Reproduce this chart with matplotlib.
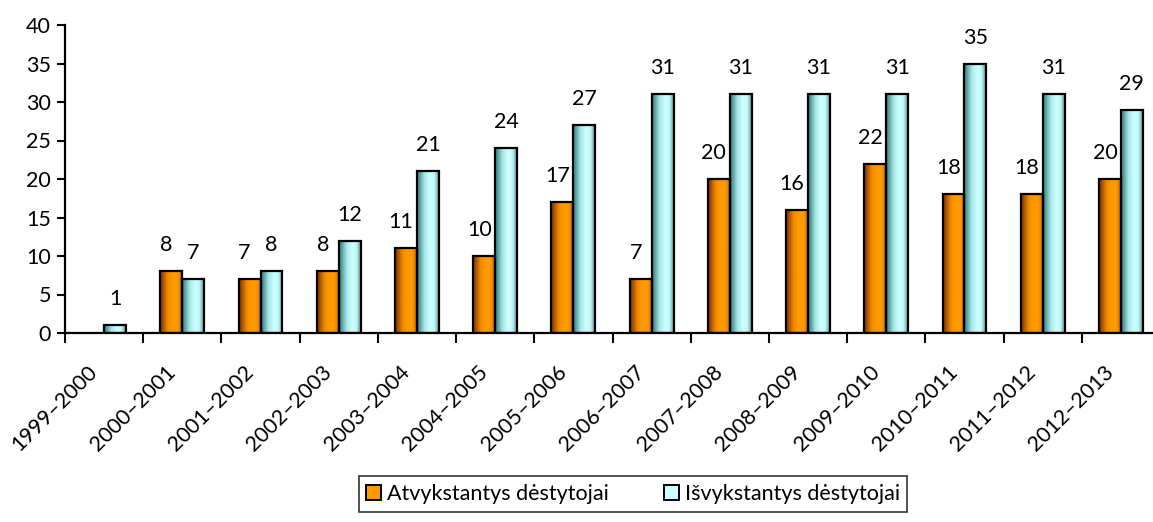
import numpy as np
import matplotlib.pyplot as plt
import matplotlib.transforms as mtransforms
from matplotlib.colors import LinearSegmentedColormap
from matplotlib.patches import Patch

plt.rcParams['font.family'] = ['Lato', 'DejaVu Sans']

# data
years = ['1999–2000', '2000–2001', '2001–2002', '2002–2003', '2003–2004',
         '2004–2005', '2005–2006', '2006–2007', '2007–2008', '2008–2009',
         '2009–2010', '2010–2011', '2011–2012', '2012–2013']
atvyk = [None, 8, 7, 8, 11, 10, 17, 7, 20, 16, 22, 18, 18, 20]
isvyk = [1, 7, 8, 12, 21, 24, 27, 31, 31, 31, 31, 35, 31, 29]
series_names = ['Atvykstantys dėstytojai', 'Išvykstantys dėstytojai']

FS = 15.5

orange_cm = LinearSegmentedColormap.from_list(
    'or', [(0, '#7a3000'), (0.35, '#f08a00'), (0.55, '#ff9900'), (0.8, '#ff9900'), (1, '#d07000')])
cyan_cm = LinearSegmentedColormap.from_list(
    'cy', [(0, '#2f7a7a'), (0.35, '#a8e8e8'), (0.6, '#ccffff'), (0.8, '#c4f6f6'), (1, '#5a9c9c')])

fig = plt.figure(figsize=(11.53, 5.22), dpi=100)
ax = fig.add_axes([65/1153, 1 - 333/522, 1095/1153, 308/522])

x = np.arange(len(years))
w = 0.28
grad = np.linspace(0, 1, 64).reshape(1, -1)

def gradient_bars(xs, vals, cmap, offset, dx):
    for xi, v in zip(xs, vals):
        if v is None:
            continue
        b = ax.bar(xi + offset, v, width=w, align='edge', facecolor='none',
                   edgecolor='black', linewidth=1.6, zorder=3)[0]
        im = ax.imshow(grad, cmap=cmap, aspect='auto', zorder=2,
                       extent=[xi + offset, xi + offset + w, 0, v])
        im.set_clip_path(b)
        ax.annotate(str(v), (xi + offset + w / 2, v), xytext=(dx, 26),
                    textcoords='offset pixels', ha='center', va='center',
                    fontsize=FS, color='black')

gradient_bars(x + 0.5, atvyk, orange_cm, -w, -5)
gradient_bars(x + 0.5, isvyk, cyan_cm, 0, 0)

ax.set_xlim(0, len(years))
ax.set_ylim(0, 40)
ax.set_yticks(np.arange(0, 41, 5))
ax.tick_params(axis='y', labelsize=FS, length=6, width=1.5, pad=4)

ax.set_xticks(x + 0.5)
ax.set_xticklabels(years, rotation=45, ha='right', va='center', rotation_mode='anchor', fontsize=FS)
ax.set_xticks(np.arange(0, len(years) + 1), minor=True)
ax.tick_params(axis='x', which='major', length=0, pad=26)
ax.tick_params(axis='x', which='minor', length=7, width=1.5)
off = mtransforms.ScaledTranslation(-10 / 100, 0, fig.dpi_scale_trans)
for lab in ax.get_xticklabels():
    lab.set_transform(lab.get_transform() + off)

for s in ['top', 'right']:
    ax.spines[s].set_visible(False)
for s in ['left', 'bottom']:
    ax.spines[s].set_linewidth(1.6)

handles = [Patch(facecolor='#ff9900', edgecolor='black', linewidth=1.4),
           Patch(facecolor='#ccffff', edgecolor='black', linewidth=1.4)]
leg = fig.legend(handles, series_names, loc='center', bbox_to_anchor=(633/1153, 1 - 494/522),
                 ncol=2, fontsize=FS, frameon=True, fancybox=False, edgecolor='black',
                 handlelength=0.7, handleheight=0.7, handletextpad=0.25, columnspacing=2.6,
                 borderpad=0.35)
leg.get_frame().set_linewidth(1.2)

fig.savefig('out.png', dpi=100)
